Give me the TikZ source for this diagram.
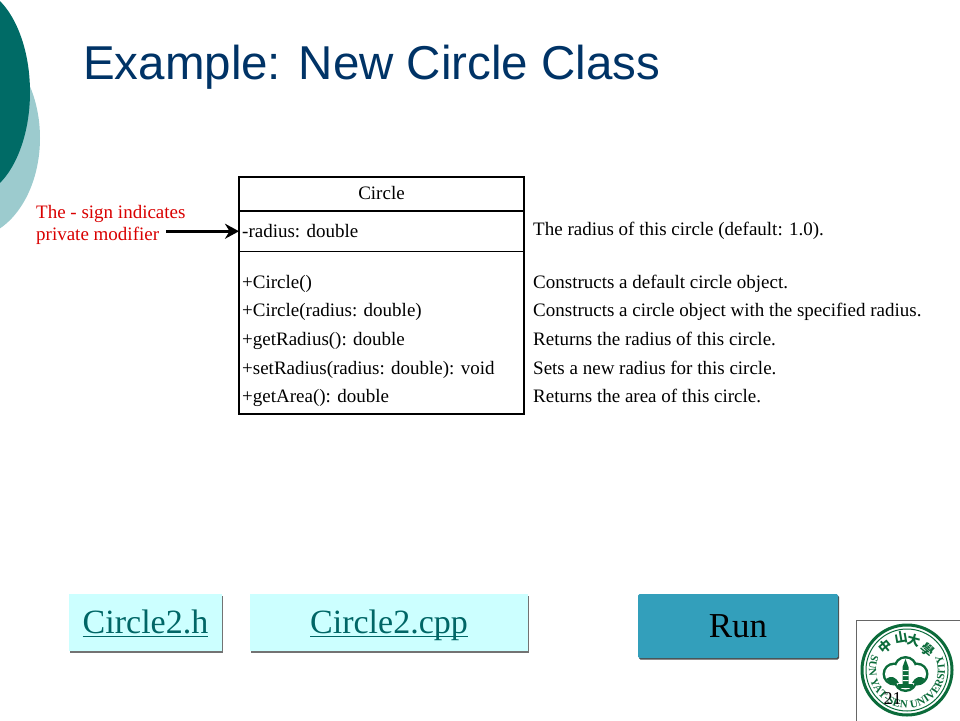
\documentclass[tikz,border=0pt]{standalone}
\usepackage{fontspec}
\setmainfont{Liberation Serif}
\newfontfamily\titlefont{Liberation Sans}
\newfontfamily\cjkfont{Noto Sans CJK SC}
\usetikzlibrary{positioning,shadows,decorations.text,arrows.meta}
\definecolor{titleblue}{HTML}{003366}
\definecolor{darkteal}{HTML}{006B66}
\definecolor{paleteal}{HTML}{9CCBCE}
\definecolor{linkteal}{HTML}{006666}
\definecolor{linkfill}{HTML}{CCFFFF}
\definecolor{runfill}{HTML}{339FBB}
\definecolor{logogreen}{HTML}{0B6B3A}
\newcommand{\linkline}[1]{\setbox0\hbox{#1}\rlap{\rule[-4pt]{\wd0}{1.5pt}}\box0}
\tikzset{
  umlbox/.style={draw,line width=1.6pt,minimum width=285pt,anchor=north west,inner sep=0pt,outer sep=0pt},
  row/.style={anchor=base west,inner sep=0pt,font=\fontsize{19}{19}\selectfont},
  note/.style={anchor=base west,inner sep=0pt,text=red!85!black,font=\fontsize{19}{19}\selectfont},
  linkbox/.style={fill=linkfill,anchor=north west,inner sep=0pt,outer sep=0pt,text=linkteal,
    text height=28pt,text depth=7pt,
    drop shadow={shadow xshift=1pt,shadow yshift=-1.5pt,fill=black!55,opacity=1},
    font=\fontsize{34}{34}\selectfont},
  sealchar/.style={text=logogreen,inner sep=0pt,font=\cjkfont\bfseries\fontsize{13}{13}\selectfont},
}
\begin{document}
\begin{tikzpicture}[x=1pt,y=-1pt]
\useasboundingbox (0,0) rectangle (960,720);
\begin{scope}
\clip (0,0) rectangle (960,720);
\fill[paleteal] (-30,138) ellipse [x radius=70,y radius=100];
\fill[darkteal] (-30,92) ellipse [x radius=60,y radius=105];
\node (logobox) [draw=black!60,anchor=north west,inner sep=0pt,minimum width=110pt,minimum height=106pt] at (856,620) {};
\end{scope}
\node (title) [anchor=base west,inner sep=0pt,text=titleblue,font=\titlefont\fontsize{47.5}{47.5}\selectfont] at (83,79) {Example: New Circle Class};
\node (namebox) [umlbox,minimum height=34pt] at (239,177) {};
\node (attrbox) [umlbox,minimum height=40.5pt] at (239,211) {};
\node (opsbox) [umlbox,minimum height=162.5pt] at (239,251.5) {};
\node (classname) [row,anchor=base] at (381.5,199) {Circle};
\node (radius) [row] at (242,237) {-radius: double};
\node (ctor) [row] at (242,288) {+Circle()};
\node (ctorarg) [row] at (242,316) {+Circle(radius: double)};
\node (getradius) [row] at (242,345) {+getRadius(): double};
\node (setradius) [row] at (242,374) {+setRadius(radius: double): void};
\node (getarea) [row] at (242,402) {+getArea(): double};
\node (radiusdoc) [row] at (533,235) {The radius of this circle (default: 1.0).};
\node (ctordoc) [row] at (533,288) {Constructs a default circle object.};
\node (ctorargdoc) [row] at (533,316) {Constructs a circle object with the specified radius.};
\node (getradiusdoc) [row] at (533,345) {Returns the radius of this circle.};
\node (setradiusdoc) [row] at (533,374) {Sets a new radius for this circle.};
\node (getareadoc) [row] at (533,402) {Returns the area of this circle.};
\node (noteone) [note] at (36,218) {The - sign indicates};
\node (notetwo) [note] at (36,240) {private modifier};
\draw[-{Stealth[length=14pt,width=15pt]},line width=3pt] ([xshift=7pt]attrbox.west -| notetwo.east) -- (attrbox.west);
\node (hfile) [linkbox,minimum width=153pt,minimum height=57pt] at (69,594) {\linkline{Circle2.h}};
\node (cppfile) [linkbox,minimum width=278pt,minimum height=57pt] at (250,594) {\linkline{Circle2.cpp}};
\node (run) [anchor=north west,inner sep=0pt,outer sep=0pt,fill=runfill,minimum width=200pt,minimum height=64pt,rounded corners=1.5pt,
  drop shadow={shadow xshift=1pt,shadow yshift=-1.5pt,fill=black!70,opacity=1},font=\fontsize{35}{35}\selectfont] at (638,594) {Run};
% logo
\node (seal) [circle,draw=logogreen,line width=3pt,minimum size=90pt,inner sep=0pt] at (907,670) {};
\draw[logogreen,line width=1pt] (seal.center) circle (41pt);
\path[decorate,decoration={text along path,text align={fit to path},
  text={|\fontsize{11}{11}\bfseries\color{logogreen}|SUN YAT-SEN UNIVERSITY}}]
  (seal.center) ++(156:38pt) arc [start angle=156,end angle=384,x radius=38pt,y radius=38pt];
\node (charzhong) [sealchar,rotate=40] at (885,647) {中};
\node (charshan) [sealchar,rotate=10] at (901,638) {山};
\node (charda) [sealchar,rotate=-15] at (914,640) {大};
\node (charxue) [sealchar,rotate=-40] at (928,650) {學};
\fill[logogreen] (894,674) circle (11.5pt) (917,674) circle (11.5pt) (905.5,668) circle (12pt) (905.5,680) circle (12pt);
\fill[white] (894,674) circle (9pt) (917,674) circle (9pt) (905.5,668) circle (9.5pt) (905.5,680) circle (9.5pt);
\fill[logogreen] (886,679) .. controls (891,675) and (896,677) .. (899,683) -- (891,684) -- cycle;
\fill[logogreen] (925,679) .. controls (920,675) and (915,677) .. (912,683) -- (920,684) -- cycle;
\fill[logogreen] (905.5,659) -- (908.5,667) -- (908.5,684) -- (902.5,684) -- (902.5,667) -- cycle;
\fill[white] (902.5,670) rectangle (908.5,671) (902.5,675) rectangle (908.5,676) (902.5,680) rectangle (908.5,681);
\fill[logogreen] (898,684) rectangle (913,688);
\node (pagenum) [inner sep=0pt,font=\fontsize{18}{18}\selectfont] at (892.5,699) {21};
\end{tikzpicture}
\end{document}
